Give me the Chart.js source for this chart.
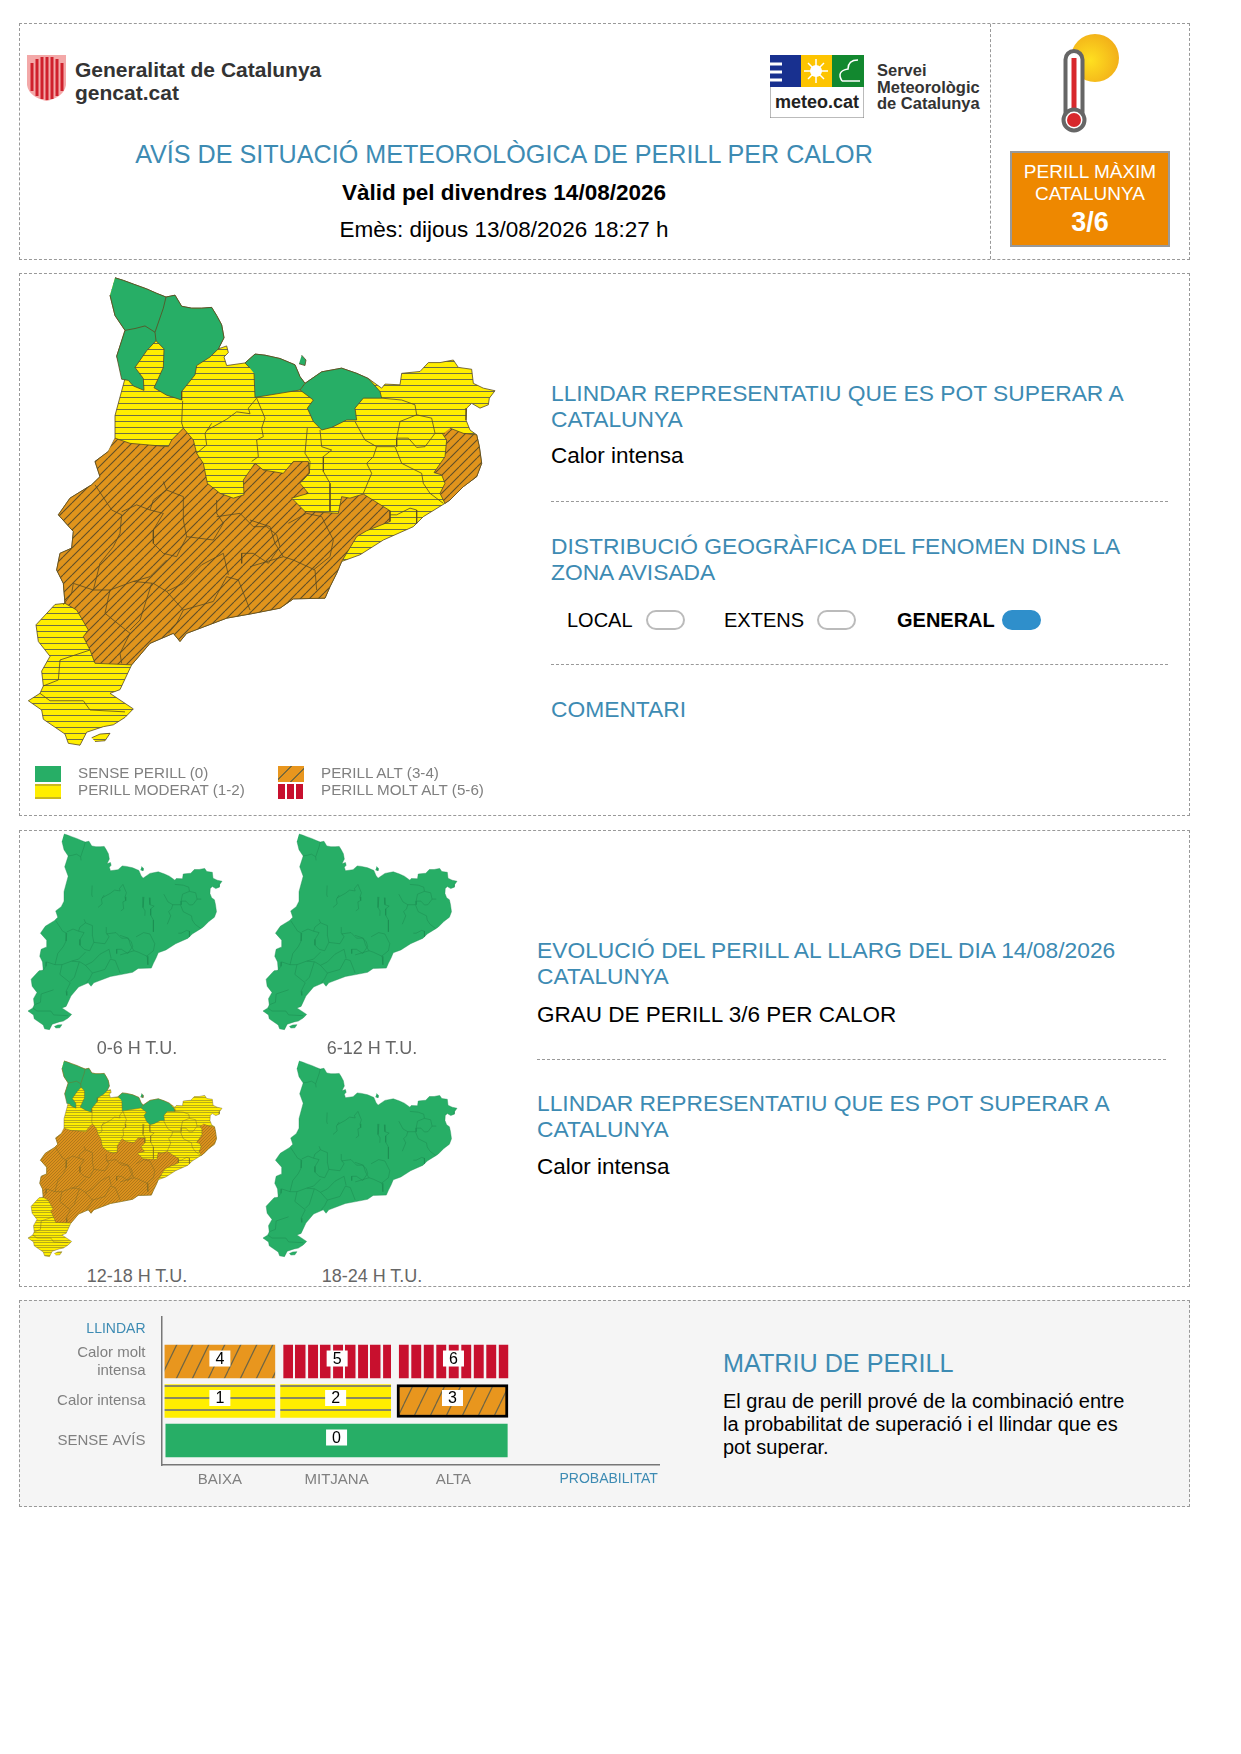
<!DOCTYPE html>
<html lang="ca">
<head>
<meta charset="utf-8">
<title>Avís de calor</title>
<script src="https://cdn.jsdelivr.net/npm/chart.js@4"></script>
<style>
    html, body { margin: 0; padding: 0; background: #fff; }
    body { position: relative; width: 1241px; height: 1754px; overflow: hidden; font-family: "Liberation Sans", Arial, sans-serif; }
    .box { position: absolute; left: 19px; width: 1171px; border: 1.5px dashed #999; box-sizing: border-box; }
    .t { position: absolute; white-space: nowrap; transform: translateY(-50%); line-height: 1; }
    .c { transform: translate(-50%, -50%); }
    .h { color: #3d8bb3; font-size: 22.8px; }
    .b { color: #000; font-size: 22.5px; }
    .g { color: #808080; font-size: 15.2px; }
    .sub { color: #666; font-size: 18px; }
    .rule { position: absolute; border-top: 1.5px dashed #999; height: 0; }
    .pill { position: absolute; top: 610px; width: 39px; height: 20px; border: 2px solid #bbb; border-radius: 10px; box-sizing: border-box; }
    canvas { position: absolute; }
    .sw { position: absolute; width: 26px; }
</style>
</head>
<body>

<div class="box" style="top:23px;height:237px"></div>
<div class="box" style="top:273px;height:543px"></div>
<div class="box" style="top:830px;height:457px"></div>
<div class="box" style="top:1300px;height:207px;background:#f5f5f5"></div>
<div style="position:absolute;left:990px;top:24px;height:235px;border-left:1.5px dashed #999"></div>

<!-- capcalera -->
<svg style="position:absolute;left:27px;top:55px" width="39" height="46" viewBox="0 0 39 46">
    <path d="M0 0H39V30Q37 42 19.5 46Q2 42 0 30Z" fill="#f3a8a8"/>
    <path d="M5 8V36M10 4V41M15 2V44M20 2V45M25 2V44M30 4V41M35 8V36" stroke="#d0202c" stroke-width="3"/>
</svg>
<div class="t" style="left:75px;top:69px;font-size:21px;font-weight:bold;color:#333">Generalitat de Catalunya</div>
<div class="t" style="left:75px;top:92px;font-size:21px;font-weight:bold;color:#333">gencat.cat</div>

<svg style="position:absolute;left:770px;top:55px" width="94" height="63" viewBox="0 0 94 63">
    <rect width="94" height="63" fill="#fff" stroke="#777"/>
    <rect width="31" height="32" fill="#18308f"/>
    <path d="M0 9H12M0 17H12M0 25H12" stroke="#fff" stroke-width="3"/>
    <rect x="31" width="31" height="32" fill="#fdc400"/>
    <circle cx="46" cy="16" r="6" fill="#fff"/>
    <path d="M46 4V28M34 16H58M38 8L54 24M54 8L38 24" stroke="#fff" stroke-width="1.5"/>
    <rect x="62" width="32" height="32" fill="#12882f"/>
    <path d="M72 26Q66 16 78 14Q78 5 88 5M72 26H90" stroke="#fff" stroke-width="1.5" fill="none"/>
</svg>
<div class="t c" style="left:817px;top:102px;font-size:18px;font-weight:bold;color:#222">meteo.cat</div>
<div class="t" style="left:877px;top:70px;font-size:16.5px;font-weight:bold;color:#333">Servei</div>
<div class="t" style="left:877px;top:87px;font-size:16.5px;font-weight:bold;color:#333">Meteorològic</div>
<div class="t" style="left:877px;top:103px;font-size:16.5px;font-weight:bold;color:#333">de Catalunya</div>

<div class="t c h" style="left:504px;top:155px;font-size:25.15px">AVÍS DE SITUACIÓ METEOROLÒGICA DE PERILL PER CALOR</div>
<div class="t c" style="left:504px;top:193px;font-size:22.5px;font-weight:bold">Vàlid pel divendres 14/08/2026</div>
<div class="t c" style="left:504px;top:230px;font-size:22.5px">Emès: dijous 13/08/2026 18:27 h</div>

<svg style="position:absolute;left:1050px;top:28px" width="80" height="110" viewBox="0 0 80 110">
    <defs><radialGradient id="sol" cx="0.4" cy="0.55" r="0.7"><stop offset="0" stop-color="#ffe020"/><stop offset="1" stop-color="#f0a818"/></radialGradient></defs>
    <circle cx="45" cy="30" r="24" fill="url(#sol)"/>
    <rect x="15.5" y="23" width="17" height="74" rx="8.5" fill="#fff" stroke="#666" stroke-width="4"/>
    <rect x="21.5" y="30" width="5" height="60" fill="#d8282c"/>
    <circle cx="24" cy="92" r="10.5" fill="#fff" stroke="#666" stroke-width="4"/>
    <circle cx="24" cy="92" r="7" fill="#d8282c"/>
</svg>
<div style="position:absolute;left:1010px;top:151px;width:160px;height:96px;background:#ee8800;border:2px solid #999;box-sizing:border-box"></div>
<div class="t c" style="left:1090px;top:171px;font-size:19px;color:#fff">PERILL MÀXIM</div>
<div class="t c" style="left:1090px;top:193px;font-size:19px;color:#fff">CATALUNYA</div>
<div class="t c" style="left:1090px;top:222px;font-size:27px;font-weight:bold;color:#fff">3/6</div>

<!-- bloc mapa principal -->
<canvas id="mapMain" style="left:0;top:260px"></canvas>
<div class="sw" style="left:35px;top:766px;height:16px;background:#27ae66"></div>
<div class="sw" style="left:35px;top:784px;height:15px;background:linear-gradient(#c9b820 0 2px,#ffee00 2px 13px,#c9b820 13px)"></div>
<div class="sw" style="left:278px;top:766px;height:16px;background:repeating-linear-gradient(135deg,#e8961e 0 9px,#7a6a3a 9px 10.5px)"></div>
<div class="sw" style="left:278px;top:784px;height:15px;background:repeating-linear-gradient(90deg,#c8102e 0 7px,#fff 7px 9px)"></div>
<div class="t g" style="left:78px;top:773px">SENSE PERILL (0)</div>
<div class="t g" style="left:78px;top:790px">PERILL MODERAT (1-2)</div>
<div class="t g" style="left:321px;top:773px">PERILL ALT (3-4)</div>
<div class="t g" style="left:321px;top:790px">PERILL MOLT ALT (5-6)</div>

<div class="t h" style="left:551px;top:393px">LLINDAR REPRESENTATIU QUE ES POT SUPERAR A</div>
<div class="t h" style="left:551px;top:419px">CATALUNYA</div>
<div class="t b" style="left:551px;top:456px">Calor intensa</div>
<div class="rule" style="left:551px;top:501px;width:617px"></div>
<div class="t h" style="left:551px;top:546px">DISTRIBUCIÓ GEOGRÀFICA DEL FENOMEN DINS LA</div>
<div class="t h" style="left:551px;top:572px">ZONA AVISADA</div>
<div class="t" style="left:567px;top:620px;font-size:20px">LOCAL</div>
<div class="pill" style="left:646px"></div>
<div class="t" style="left:724px;top:620px;font-size:20px">EXTENS</div>
<div class="pill" style="left:817px"></div>
<div class="t" style="left:897px;top:620px;font-size:20px;font-weight:bold">GENERAL</div>
<div class="pill" style="left:1002px;background:#2f8fcb;border-color:#2f8fcb"></div>
<div class="rule" style="left:551px;top:664px;width:617px"></div>
<div class="t h" style="left:551px;top:709px">COMENTARI</div>

<!-- bloc evolucio -->
<canvas id="map0" style="left:20px;top:828px"></canvas>
<canvas id="map1" style="left:255px;top:828px"></canvas>
<canvas id="map2" style="left:20px;top:1055px"></canvas>
<canvas id="map3" style="left:255px;top:1055px"></canvas>
<div class="t c sub" style="left:137px;top:1048px">0-6 H T.U.</div>
<div class="t c sub" style="left:372px;top:1048px">6-12 H T.U.</div>
<div class="t c sub" style="left:137px;top:1276px">12-18 H T.U.</div>
<div class="t c sub" style="left:372px;top:1276px">18-24 H T.U.</div>

<div class="t h" style="left:537px;top:950px">EVOLUCIÓ DEL PERILL AL LLARG DEL DIA 14/08/2026</div>
<div class="t h" style="left:537px;top:976px">CATALUNYA</div>
<div class="t b" style="left:537px;top:1015px">GRAU DE PERILL 3/6 PER CALOR</div>
<div class="rule" style="left:537px;top:1059px;width:629px"></div>
<div class="t h" style="left:537px;top:1103px">LLINDAR REPRESENTATIU QUE ES POT SUPERAR A</div>
<div class="t h" style="left:537px;top:1129px">CATALUNYA</div>
<div class="t b" style="left:537px;top:1167px">Calor intensa</div>

<!-- bloc matriu -->
<canvas id="matrix" style="left:20px;top:1305px"></canvas>
<div class="t h" style="left:723px;top:1364px;font-size:25.2px">MATRIU DE PERILL</div>
<div class="t" style="left:723px;top:1401px;font-size:20px">El grau de perill prové de la combinació entre</div>
<div class="t" style="left:723px;top:1424px;font-size:20px">la probabilitat de superació i el llindar que es</div>
<div class="t" style="left:723px;top:1447px;font-size:20px">pot superar.</div>

<script>
// contorns del mapa, en unitats de mapa (no pixels)
const catalunya = [[345,48],[370,55],[400,65],[440,78],[470,90],[498,100],[525,95],[545,125],[575,130],[605,130],[635,128],[650,150],[665,175],[672,210],[655,240],[680,232],[685,250],[672,262],[680,285],[735,278],[765,254],[795,257],[840,266],[885,283],[900,315],[915,333],[965,302],[1025,292],[1070,306],[1105,320],[1145,346],[1155,335],[1200,337],[1205,306],[1260,301],[1285,277],[1320,277],[1360,270],[1375,290],[1415,295],[1420,333],[1450,346],[1485,353],[1468,373],[1465,391],[1440,400],[1415,387],[1400,400],[1398,432],[1410,459],[1430,472],[1438,504],[1445,549],[1430,585],[1390,612],[1350,648],[1335,657],[1270,693],[1240,720],[1150,756],[1080,796],[1025,814],[1010,846],[990,882],[975,913],[880,915],[840,940],[755,955],[680,967],[560,1008],[540,1030],[520,1008],[450,1035],[395,1093],[360,1160],[330,1170],[400,1212],[375,1235],[340,1255],[310,1260],[260,1275],[240,1310],[205,1305],[195,1280],[130,1240],[125,1215],[85,1190],[120,1170],[130,1150],[125,1110],[150,1070],[115,1030],[108,985],[165,930],[195,927],[190,873],[170,837],[180,792],[215,778],[220,733],[175,688],[210,643],[275,607],[300,585],[285,544],[325,517],[345,481],[345,420],[375,320],[350,260],[375,190],[345,150],[330,95]];
const illa = [[275,1290],[300,1280],[330,1278],[315,1298],[285,1300]];

const verdNordOest = [[345,48],[370,55],[400,65],[440,78],[470,90],[498,100],[525,95],[545,125],[575,130],[605,130],[635,128],[650,150],[665,175],[672,210],[655,240],[630,262],[590,285],[585,310],[545,355],[545,378],[500,365],[462,345],[490,290],[492,240],[468,218],[440,245],[405,290],[430,320],[432,352],[400,340],[385,325],[365,322],[350,260],[375,190],[345,150],[330,95]];
const verdCentre = [[750,292],[735,278],[765,254],[795,257],[840,266],[885,283],[900,315],[915,333],[900,351],[840,360],[765,371],[762,306]];
const verdEst = [[915,333],[965,302],[1025,292],[1070,306],[1105,320],[1140,355],[1145,373],[1090,373],[1065,400],[1070,432],[1040,432],[995,452],[965,459],[940,436],[922,400],[940,378],[900,351]];
const verdIlla = [[905,257],[918,270],[915,285],[897,280]];

const taronjaOest = [[345,481],[390,495],[505,504],[515,486],[550,454],[580,486],[590,522],[610,549],[622,603],[660,630],[700,643],[732,634],[730,594],[765,549],[790,567],[850,576],[880,544],[925,544],[928,576],[900,603],[925,630],[875,643],[915,679],[1015,684],[1025,639],[1050,643],[1090,632],[1170,677],[1170,706],[1100,731],[1070,747],[1025,814],[1010,846],[990,882],[975,913],[880,915],[840,940],[755,955],[680,967],[560,1008],[540,1030],[520,1008],[450,1035],[395,1093],[285,1089],[270,1053],[250,1017],[265,999],[230,945],[195,927],[190,873],[170,837],[180,792],[215,778],[220,733],[175,688],[210,643],[275,607],[300,585],[285,544],[325,517]];
const taronjaEst = [[1350,454],[1390,468],[1430,472],[1438,504],[1445,549],[1430,585],[1390,612],[1350,648],[1335,657],[1320,630],[1335,603],[1325,580],[1302,574],[1335,531],[1340,486],[1328,470]];

// limits de comarca
const comarques = [
    [[498,100],[490,130],[465,195],[468,218]],
    [[375,190],[405,185],[435,178],[465,195]],
    [[548,380],[545,440],[550,454]],
    [[620,460],[680,430],[710,410],[750,415],[745,400],[770,373]],
    [[770,373],[795,427],[785,454],[790,477],[770,486],[775,531],[755,544]],
    [[635,441],[615,468],[620,499],[590,522]],
    [[922,454],[915,522],[930,544],[928,576]],
    [[960,459],[965,504],[995,513],[970,531],[970,571],[990,603],[990,679]],
    [[1065,436],[1095,486],[1130,504],[1120,531],[1100,549],[1115,576],[1090,630]],
    [[1130,504],[1185,504],[1205,549],[1265,576],[1270,603],[1290,630],[1330,657]],
    [[1190,481],[1200,436],[1250,418],[1295,427],[1305,468],[1275,504],[1250,506],[1225,481],[1190,481]],
    [[1205,378],[1245,391],[1250,418]],
    [[1145,373],[1205,378]],
    [[1190,481],[1190,504]],
    [[1335,468],[1305,468]],
    [[1170,688],[1190,688],[1230,670],[1250,675],[1250,711]],
    [[285,607],[335,675],[365,688],[360,738],[340,774],[300,819],[280,891]],
    [[365,680],[410,661],[450,675],[460,648],[500,621],[490,598]],
    [[450,675],[490,684],[460,729],[460,765],[490,792],[530,801],[560,747],[550,702],[550,639],[500,621]],
    [[560,747],[640,756],[670,711],[650,684],[650,648]],
    [[500,810],[450,855],[400,868],[330,891],[280,891],[220,873],[215,900],[190,931]],
    [[670,792],[605,823],[550,873],[500,895],[460,873],[400,868]],
    [[500,895],[550,945],[530,981],[505,1008]],
    [[330,891],[315,954],[390,1008],[360,1062],[365,1089]],
    [[455,873],[420,972],[390,999]],
    [[550,945],[640,922],[680,855],[715,864],[750,945]],
    [[670,792],[685,850]],
    [[650,693],[720,684],[760,720],[800,720],[830,742],[840,774],[805,819],[760,792],[725,792],[725,819]],
    [[750,702],[810,720],[825,765],[850,801],[880,810],[945,837],[950,891]],
    [[865,711],[920,684],[965,693],[1000,756],[990,801],[940,837]],
    [[750,828],[850,801]],
    [[270,1053],[180,1080],[175,1134],[130,1150]],
    [[120,1170],[150,1190],[250,1190],[270,1215],[375,1220]]
];

// matriu de perill: una entrada per cel·la
const cellLevel = [4, 5, 6, 1, 2, 3, 0];
const cellThreshold = [2, 2, 2, 1, 1, 1, 0];
const cellProbFrom = [-0.471, 0.546, 1.534, -0.471, 0.52, 1.517, -0.463];
const cellProbTo = [0.471, 1.463, 2.468, 0.471, 1.463, 2.468, 2.462];
const cellKind = ["alt", "moltAlt", "moltAlt2", "moderat", "moderat", "alt", "sense"];
const probTicks = ["BAIXA", "MITJANA", "ALTA", "PROBABILITAT"];
const probTickValues = [0, 1, 2, 3.33];
const thresholdTicks = ["SENSE AVÍS", "Calor intensa", ["Calor molt", "intensa"], "LLINDAR"];
const thresholdTickValues = [0, 1, 2, 2.82];

const VERD = "#27ae66";
const GROC = "#ffee00";
const TARONJA = "#e0941c";
const VERMELL = "#c8102e";

function makePattern(w, h, color, line, lineWidth, draw) {
    const c = document.createElement("canvas");
    c.width = w;
    c.height = h;
    const x = c.getContext("2d");
    x.fillStyle = color;
    x.fillRect(0, 0, w, h);
    x.strokeStyle = line;
    x.lineWidth = lineWidth;
    x.beginPath();
    draw(x, w, h);
    x.stroke();
    return x.createPattern(c, "repeat");
}
// ratlles a les posicions donades
const rows = list => (x, w) => list.forEach(y => { x.moveTo(0, y); x.lineTo(w, y); });
const cols = list => (x, w, h) => list.forEach(v => { x.moveTo(v, 0); x.lineTo(v, h); });
const diagonal = (x, w, h) => {
    [-w, 0, w].forEach(o => { x.moveTo(o, h); x.lineTo(o + w, 0); });
};

function toPoints(list) {
    return list.map(p => ({ x: p[0], y: p[1] }));
}

function shape(list, fillColor, lineColor, lineWidth) {
    return {
        data: toPoints(list),
        showLine: true,
        fill: "shape",
        backgroundColor: fillColor,
        borderColor: lineColor,
        borderWidth: lineWidth,
        pointRadius: 0,
        tension: 0
    };
}

function borderLines(color, lineWidth) {
    return comarques.map(l => ({
        data: toPoints(l),
        showLine: true,
        fill: false,
        borderColor: color,
        borderWidth: lineWidth,
        pointRadius: 0,
        tension: 0
    }));
}

// el primer dataset es dibuixa a sobre
function hazardDatasets(yellow, orange, line, lineWidth) {
    return [
        ...borderLines(line, lineWidth),
        shape(verdNordOest, VERD, line, lineWidth),
        shape(verdCentre, VERD, line, lineWidth),
        shape(verdEst, VERD, line, lineWidth),
        shape(verdIlla, VERD, line, lineWidth),
        shape(taronjaOest, orange, line, lineWidth),
        shape(taronjaEst, orange, line, lineWidth),
        shape(illa, yellow, line, lineWidth),
        shape(catalunya, yellow, line, lineWidth)
    ];
}

function greenDatasets() {
    return [
        ...borderLines("#1c8a50", 0.5),
        shape(verdIlla, VERD, "#1c8a50", 0.4),
        shape(illa, VERD, "#1c8a50", 0.4),
        shape(catalunya, VERD, "#1c8a50", 0.4)
    ];
}

function drawMap(id, width, height, limits, datasets) {
    const canvas = document.getElementById(id);
    canvas.width = width;
    canvas.height = height;
    canvas.style.width = width + "px";
    canvas.style.height = height + "px";
    new Chart(canvas, {
        type: "scatter",
        data: { datasets: datasets },
        options: {
            responsive: false,
            animation: false,
            devicePixelRatio: 1,
            events: [],
            layout: { padding: 0 },
            plugins: { legend: { display: false }, tooltip: { enabled: false } },
            scales: {
                x: { type: "linear", display: false, min: limits[0], max: limits[1] },
                y: { type: "linear", display: false, reverse: true, min: limits[2], max: limits[3] }
            }
        }
    });
}

const mainLimits = [0, 1560, 0, 1566];
const smallLimits = [27.4, 1542.6, 9.3, 1351];

drawMap("mapMain", 520, 580, mainLimits, hazardDatasets(
    makePattern(6, 6, GROC, "#6f6f45", 1, rows([5.5])),
    makePattern(9, 9, TARONJA, "#5f4f28", 1.1, diagonal),
    "#5a4a20", 0.8
));
drawMap("map0", 210, 208, smallLimits, greenDatasets());
drawMap("map1", 210, 208, smallLimits, greenDatasets());
drawMap("map2", 210, 208, smallLimits, hazardDatasets(
    makePattern(5, 5, GROC, "#b8ac18", 1, rows([0.5, 2.5])),
    makePattern(3, 3, "#da901c", "#96691a", 0.6, diagonal),
    "#7a6a25", 0.45
));
drawMap("map3", 210, 208, smallLimits, greenDatasets());

// matriu de perill
const cellFill = {
    sense: VERD,
    moderat: makePattern(12, 12, GROC, "#888860", 2, rows([9])),
    alt: makePattern(16, 33, "#e8961e", "#6e6545", 1.2, diagonal),
    moltAlt: makePattern(25, 25, VERMELL, "#f5f5f5", 2.6, cols([11.8, 24.3])),
    moltAlt2: makePattern(25, 25, VERMELL, "#f5f5f5", 2.6, cols([2.5, 15]))
};

const cellLabels = {
    id: "cellLabels",
    afterDatasetsDraw(chart) {
        const ctx = chart.ctx;
        ctx.save();
        ctx.font = "16px 'Liberation Sans'";
        ctx.textAlign = "center";
        ctx.textBaseline = "middle";
        chart.getDatasetMeta(0).data.forEach((bar, i) => {
            const props = bar.getProps(["x", "y", "base"], true);
            const cx = (props.x + props.base) / 2;
            const cy = props.y - 3;
            ctx.fillStyle = "#fff";
            ctx.fillRect(cx - 10.5, cy - 8, 21, 16);
            ctx.fillStyle = "#000";
            ctx.fillText(String(cellLevel[i]), cx, cy + 1);
        });
        ctx.restore();
    }
};

const matrixCanvas = document.getElementById("matrix");
matrixCanvas.width = 640;
matrixCanvas.height = 195;
matrixCanvas.style.width = "640px";
matrixCanvas.style.height = "195px";

new Chart(matrixCanvas, {
    type: "bar",
    data: {
        datasets: [{
            data: cellLevel.map((_, i) => ({ x: [cellProbFrom[i], cellProbTo[i]], y: cellThreshold[i] })),
            backgroundColor: cellKind.map(k => cellFill[k]),
            borderColor: cellLevel.map(l => (l === 3 ? "#000" : "rgba(0,0,0,0)")),
            borderWidth: cellLevel.map(l => (l === 3 ? 3 : 0)),
            borderSkipped: false,
            barThickness: 33
        }]
    },
    options: {
        indexAxis: "y",
        responsive: false,
        animation: false,
        devicePixelRatio: 1,
        events: [],
        layout: { padding: { left: 0, right: 0, top: 12, bottom: 0 } },
        plugins: { legend: { display: false }, tooltip: { enabled: false } },
        scales: {
            x: {
                type: "linear",
                min: -0.5,
                max: 3.77,
                grid: { display: false, drawTicks: false },
                border: { color: "#777", width: 1.5 },
                afterFit: axis => {
                    axis.height = 35;
                    axis.paddingLeft = 0;
                    axis.paddingRight = 0;
                },
                afterBuildTicks: axis => { axis.ticks = probTickValues.map(v => ({ value: v })); },
                ticks: {
                    autoSkip: false,
                    maxRotation: 0,
                    padding: 6,
                    font: ctx => ({ size: ctx.index === 3 ? 14 : 15, family: "Liberation Sans" }),
                    color: ctx => (ctx.index === 3 ? "#3d8bb3" : "#808080"),
                    callback: (v, i) => probTicks[i]
                }
            },
            y: {
                type: "linear",
                offset: false,
                min: -0.62,
                max: 3.127,
                grid: { display: false, drawTicks: false, offset: false },
                border: { color: "#777", width: 1.5 },
                afterFit: axis => {
                    axis.width = 141.5;
                    axis.paddingTop = 0;
                    axis.paddingBottom = 0;
                },
                afterBuildTicks: axis => { axis.ticks = thresholdTickValues.map(v => ({ value: v })); },
                ticks: {
                    autoSkip: false,
                    padding: 16,
                    font: ctx => ({ size: ctx.index === 3 ? 14 : 15, family: "Liberation Sans" }),
                    color: ctx => (ctx.index === 3 ? "#3d8bb3" : "#808080"),
                    callback: (v, i) => thresholdTicks[i]
                }
            }
        }
    },
    plugins: [cellLabels]
});
</script>
</body>
</html>
